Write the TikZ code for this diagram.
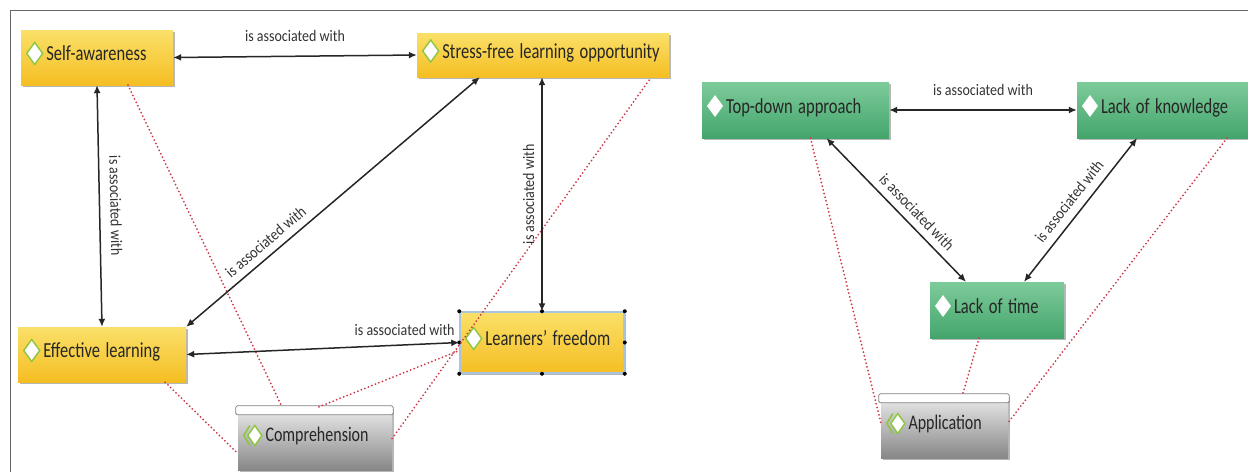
\documentclass[tikz,border=0pt]{standalone}
\usepackage{graphicx}
\usepackage{fontspec}
\setmainfont{Carlito}
\usetikzlibrary{arrows.meta,calc,shadows}

\definecolor{codeyel}{RGB}{250,224,105}
\definecolor{codeyeldark}{RGB}{245,190,35}
\definecolor{codegreen}{RGB}{125,203,154}
\definecolor{codegreendark}{RGB}{68,165,108}
\definecolor{docgray}{RGB}{236,236,236}
\definecolor{docgraydark}{RGB}{135,135,135}
\definecolor{linkred}{RGB}{205,55,70}
\definecolor{iconlime}{RGB}{141,198,63}
\definecolor{selblue}{RGB}{170,195,225}

% small icons in front of the node texts
\newcommand{\codeicon}{\tikz[x=1pt,y=1pt,baseline=-7pt]\draw[iconlime,line width=1.4pt,fill=white] (0,0) -- (8,11) -- (16,0) -- (8,-11) -- cycle;}
\newcommand{\greenicon}{\tikz[x=1pt,y=1pt,baseline=-7pt]\fill[white] (0,0) -- (8,11) -- (16,0) -- (8,-11) -- cycle;}
\newcommand{\groupicon}{\tikz[x=1pt,y=1pt,baseline=-6pt]{\draw[iconlime,line width=1.6pt] (6,10) -- (0,0) -- (6,-10); \draw[iconlime,line width=1.4pt,fill=white] (4,0) -- (11,10) -- (18,0) -- (11,-10) -- cycle;}}
% texts are drawn a bit taller than wide
\newcommand{\tall}[1]{\scalebox{1}[1.3]{#1}}
\newcommand{\assoctext}{\scalebox{1}[1.15]{is associated with}}

\tikzset{
  basebox/.style={drop shadow={shadow xshift=2pt,shadow yshift=-2pt,opacity=0.4,fill=black!70},
    inner xsep=5pt, text height=12pt, text depth=6pt, align=left,
    font=\fontsize{16.5}{18}\selectfont, text=black!85},
  code/.style={basebox, top color=codeyel, bottom color=codeyeldark},
  greencode/.style={basebox, top color=codegreen, bottom color=codegreendark, minimum height=56pt},
  group/.style={basebox, top color=docgray, bottom color=docgraydark, minimum height=63pt, font=\fontsize{16}{18}\selectfont},
  lid/.style={fill=white, draw=black!50, line width=0.8pt, rounded corners=1.5pt},
  assoc/.style={{Latex[length=8pt,width=7pt]}-{Latex[length=8pt,width=7pt]}, line width=1.5pt, black!85},
  tie/.style={linkred, line width=2pt, line cap=round, dash pattern=on 0pt off 3.8pt},
  lab/.style={font=\fontsize{14}{16}\selectfont, text=black!80, inner sep=2pt}
}

\begin{document}
\begin{tikzpicture}[x=1pt, y=-1pt]
  \useasboundingbox (0,0) rectangle (1248,472);
  % Frame
  \draw[black!60, line width=0.8pt] (10,472) -- (10,10) -- (1248,10);
  % Codes, left network
  \node[code, minimum height=55pt, text width=142pt] (sa) at (97,57.5) {\codeicon\hspace{3pt}\tall{Self-awareness}};
  \node[code, minimum height=44pt, text width=242pt] (sf) at (543,55) {\codeicon\hspace{3pt}\tall{Stress-free learning opportunity}};
  \node[code, minimum height=55pt, text width=158pt] (el) at (102,354.5) {\codeicon\hspace{3pt}\tall{Effective learning}};
  \node[code, minimum height=61pt, text width=154pt, draw=selblue, line width=1.5pt] (lf) at (542,342.5) {\codeicon\hspace{3pt}\tall{Learners' freedom}};
  \foreach \a in {north west,north,north east,east,south east,south,south west,west}
    \fill (lf.\a) circle (2);
  \node[group, text width=144pt] (comp) at (315,438.5) {\groupicon\hspace{3pt}\tall{Comprehension}};
  % Codes, right network
  \node[greencode, text width=177pt] (td) at (795.5,110) {\greenicon\hspace{3pt}\tall{Top-down approach}};
  \node[greencode, text width=166pt] (lk) at (1165,110) {\greenicon\hspace{3pt}\tall{Lack of knowledge}};
  \node[greencode, text width=124pt] (lt) at (997,310) {\greenicon\hspace{3pt}\tall{Lack of time}};
  \node[group, text width=117pt] (app) at (944.5,426.5) {\groupicon\hspace{3pt}\tall{Application}};
  % Group lids
  \foreach \n in {comp,app}
    \draw[lid] ($(\n.north west)+(-2,-1)$) rectangle ($(\n.north east)+(1,8)$);
  % Group links (red dotted)
  \draw[tie] ($(sa.south)+(31,0)$) -- ($(comp.north)+(-33,0)$);
  \draw[tie] ($(el.south east)+(-21,0)$) -- ($(comp.west)+(0,15)$);
  \draw[tie] ($(comp.north)+(4,0)$) -- ($(lf.west)+(0,8)$);
  \draw[tie] (comp.east) -- ($(sf.south east)+(-18,0)$);
  \draw[tie] ($(td.south)+(15,0)$) -- ($(app.west)+(0,-4)$);
  \draw[tie] ($(lt.south)+(-18,0)$) -- ($(app.north)+(18,0)$);
  \draw[tie] ($(lk.south)+(62,0)$) -- ($(app.east)+(0,-4)$);
  % Associations, left network
  \draw[assoc] (sa.east) -- node[lab, above=12pt] {\assoctext} (sf.west);
  \draw[assoc] (sa.south) -- node[lab, sloped, above=8pt] {\assoctext} (el.north);
  \draw[assoc] (el.north east) -- node[lab, sloped, above=5pt, pos=0.3] {\assoctext} ($(sf.south west)+(63,0)$);
  \draw[assoc] (lf.north) -- node[lab, sloped, above=5pt] {\assoctext} (lf.north |- sf.south);
  \draw[assoc] (el.east) -- node[lab, above=7pt, pos=0.8] {\assoctext} (lf.west);
  % Associations, right network
  \draw[assoc] (td.east) -- node[lab, above=12pt] {\assoctext} (lk.west);
  \draw[assoc] ($(td.south)+(31,0)$) -- node[lab, sloped, above=5pt, pos=0.58] {\assoctext} ($(lt.north)+(-31,0)$);
  \draw[assoc] ($(lt.north)+(27,0)$) -- node[lab, sloped, above=6pt] {\assoctext} ($(lk.south)+(-28,0)$);
\end{tikzpicture}
\end{document}
